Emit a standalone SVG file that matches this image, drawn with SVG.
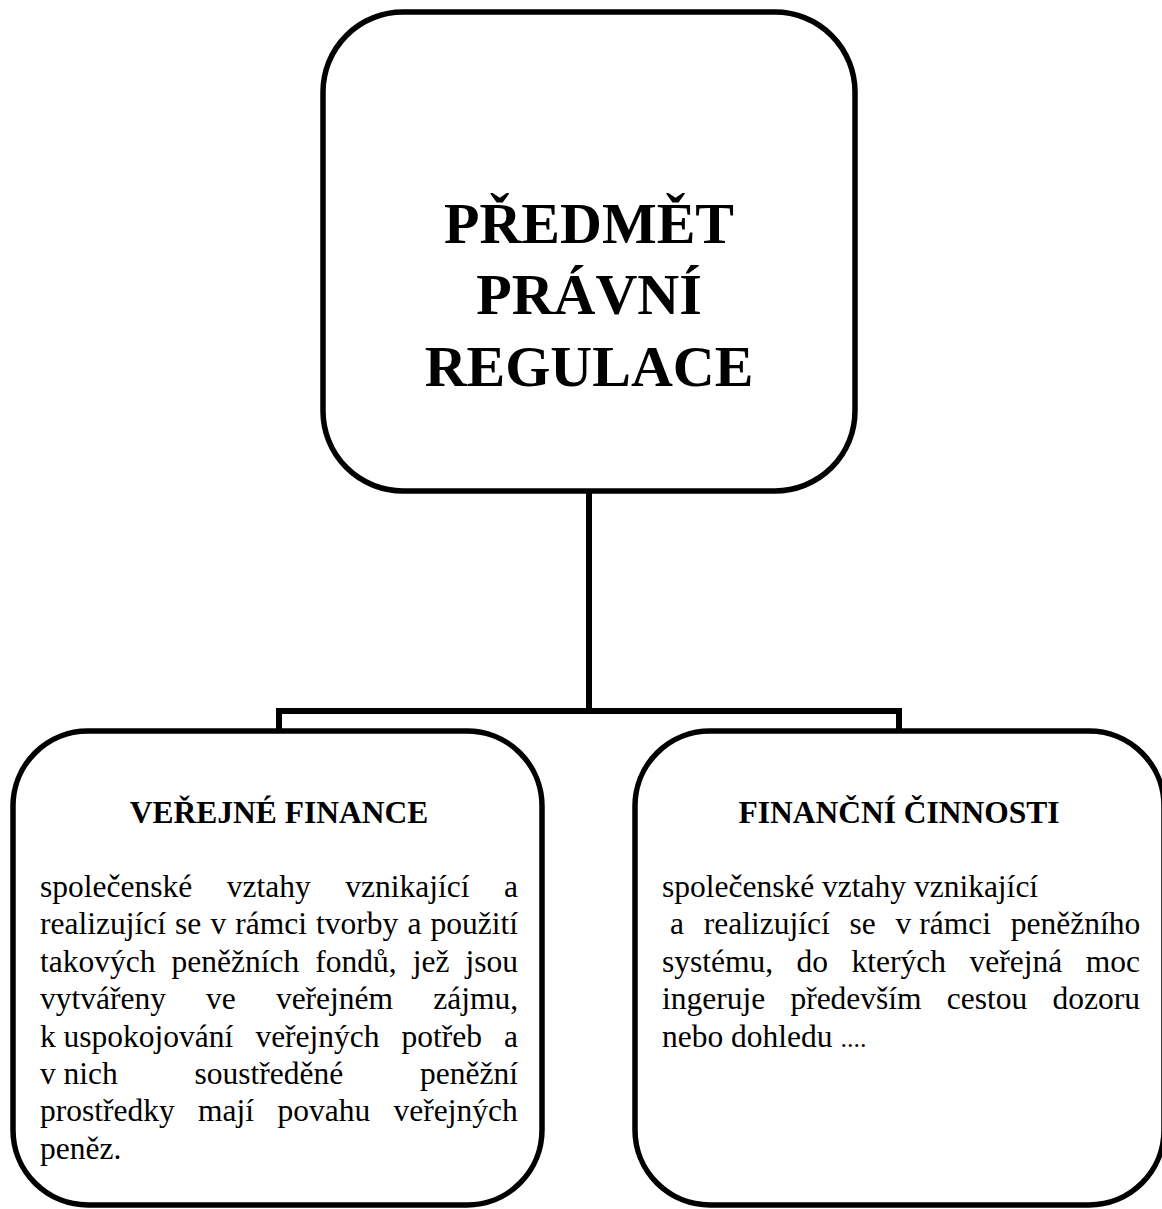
<svg xmlns="http://www.w3.org/2000/svg" width="1162" height="1209" viewBox="0 0 1162 1209">
<style>
.box{fill:#fff;stroke:#000;stroke-width:5.5}
.conn{fill:none;stroke:#000;stroke-width:6;stroke-linejoin:miter;stroke-linecap:butt}
text{font-family:'Liberation Serif','DejaVu Serif',serif;fill:#000}
.title{font-weight:bold;font-size:58px;text-anchor:middle}
.head{font-weight:bold;font-size:31.5px;text-anchor:middle}
.body{font-size:31.5px}
.small{font-size:26px}
</style>
<rect width="1162" height="1209" fill="#fff"/>
<g id="connectors">
<path class="conn" d="M589,491 V711"/>
<path class="conn" d="M279,733 V711 H899 V733"/>
</g>
<g id="node-predmet">
<rect class="box" x="323" y="12" width="532" height="479" rx="80" ry="80"/>
<text class="title" x="589" y="243">PŘEDMĚT</text>
<text class="title" x="589" y="314">PRÁVNÍ</text>
<text class="title" x="589" y="386">REGULACE</text>
</g>
<g id="node-verejne-finance">
<rect class="box" x="13" y="731" width="529" height="474" rx="75" ry="75"/>
<text class="head" x="279" y="823">VEŘEJNÉ FINANCE</text>
<text class="body" y="897"><tspan x="40">společenské</tspan><tspan x="226.7">vztahy</tspan><tspan x="345.2">vznikající</tspan><tspan x="503.9">a</tspan></text>
<text class="body" y="934.4"><tspan x="40">realizující</tspan><tspan x="175.1">se</tspan><tspan x="210.4">v</tspan><tspan x="235.3">rámci</tspan><tspan x="316.1">tvorby</tspan><tspan x="407.4">a</tspan><tspan x="430.5">použití</tspan></text>
<text class="body" y="971.8"><tspan x="40">takových</tspan><tspan x="171.5">peněžních</tspan><tspan x="315.3">fondů,</tspan><tspan x="412.7">jež</tspan><tspan x="465.5">jsou</tspan></text>
<text class="body" y="1009.2"><tspan x="40">vytvářeny</tspan><tspan x="206.1">ve</tspan><tspan x="275.9">veřejném</tspan><tspan x="433.2">zájmu,</tspan></text>
<text class="body" y="1046.6"><tspan x="40">k</tspan><tspan x="63.6">uspokojování</tspan><tspan x="255.4">veřejných</tspan><tspan x="401.5">potřeb</tspan><tspan x="504">a</tspan></text>
<text class="body" y="1084"><tspan x="40">v</tspan><tspan x="63.6">nich</tspan><tspan x="194.6">soustředěné</tspan><tspan x="420">peněžní</tspan></text>
<text class="body" y="1121.4"><tspan x="40">prostředky</tspan><tspan x="198.1">mají</tspan><tspan x="277.5">povahu</tspan><tspan x="393.6">veřejných</tspan></text>
<text class="body" y="1158.8" x="40">peněz.</text>
</g>
<g id="node-financni-cinnosti">
<rect class="box" x="635" y="731" width="529" height="474" rx="75" ry="75"/>
<text class="head" x="899" y="823">FINANČNÍ ČINNOSTI</text>
<text class="body" y="897" x="662">společenské vztahy vznikající</text>
<text class="body" y="934.4"><tspan x="670">a</tspan><tspan x="703.8">realizující</tspan><tspan x="849.6">se</tspan><tspan x="895.6">v</tspan><tspan x="919.3">rámci</tspan><tspan x="1010.8">peněžního</tspan></text>
<text class="body" y="971.8"><tspan x="662">systému,</tspan><tspan x="796.6">do</tspan><tspan x="851.6">kterých</tspan><tspan x="969.6">veřejná</tspan><tspan x="1085.8">moc</tspan></text>
<text class="body" y="1009.2"><tspan x="662">ingeruje</tspan><tspan x="790.4">především</tspan><tspan x="946.8">cestou</tspan><tspan x="1052.5">dozoru</tspan></text>
<text class="body" y="1046.6" x="662">nebo dohledu <tspan class="small">....</tspan></text>
</g>
</svg>
